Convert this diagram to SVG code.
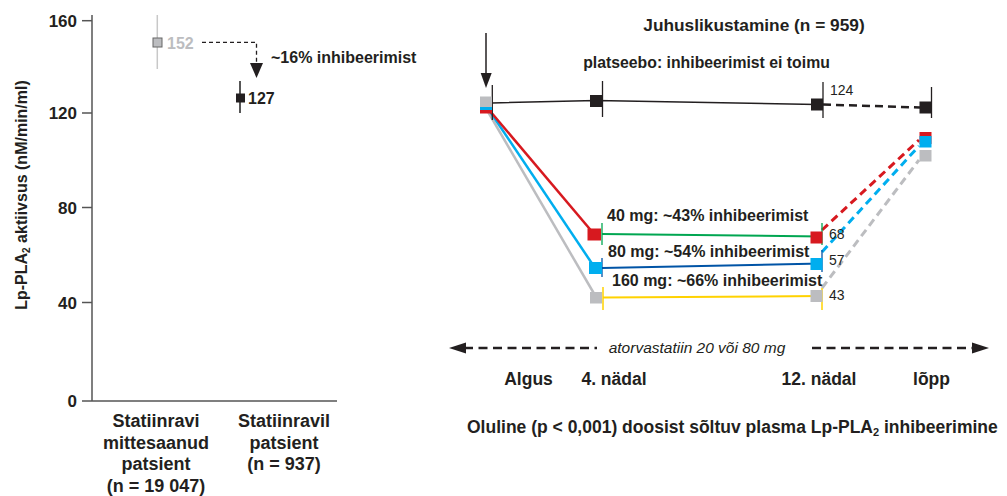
<svg xmlns="http://www.w3.org/2000/svg" width="1007" height="496" viewBox="0 0 1007 496">
<style>
text{font-family:"Liberation Sans",Arial,sans-serif;fill:#231f20}
.b{font-weight:bold}
.tick{font-size:17px;font-weight:bold;text-anchor:end}
.xl{font-size:18px;font-weight:bold;text-anchor:middle}
.num{font-size:14px}
.dose{font-size:16px;font-weight:bold}
.wk{font-size:17.5px;font-weight:bold;text-anchor:middle}
.ax{stroke:#555;stroke-width:1.5;fill:none}
.blk{fill:#231f20}
</style>
<rect width="1007" height="496" fill="#fff"/>

<!-- LEFT CHART -->
<g id="left-axes">
  <line class="ax" x1="92" y1="15" x2="92" y2="401"/>
  <line class="ax" x1="92" y1="401" x2="337" y2="401"/>
  <line class="ax" x1="82" y1="20.7" x2="92" y2="20.7"/>
  <line class="ax" x1="82" y1="113" x2="92" y2="113"/>
  <line class="ax" x1="82" y1="207.5" x2="92" y2="207.5"/>
  <line class="ax" x1="82" y1="302.5" x2="92" y2="302.5"/>
  <line class="ax" x1="82" y1="401" x2="92" y2="401"/>
  <text class="tick" x="77" y="26.5">160</text>
  <text class="tick" x="77" y="119">120</text>
  <text class="tick" x="77" y="213.5">80</text>
  <text class="tick" x="77" y="308.5">40</text>
  <text class="tick" x="77" y="407">0</text>
  <text class="b" font-size="16" text-anchor="middle" transform="translate(27,195) rotate(-90)">Lp-PLA<tspan font-size="10" dy="3">2</tspan><tspan dy="-3"> aktiivsus (nM/min/ml)</tspan></text>
</g>
<g id="group-no-statin">
  <line x1="157.3" y1="15" x2="157.3" y2="69" stroke="#c8c8c8" stroke-width="1.5"/>
  <rect x="153" y="38" width="9" height="9" fill="#bcbdc0" stroke="#666" stroke-width="1"/>
  <text class="b" x="167" y="48.5" font-size="16" style="fill:#bcbdc0">152</text>
  <text class="xl" x="156" y="427">Statiinravi</text>
  <text class="xl" x="156" y="448.5">mittesaanud</text>
  <text class="xl" x="156" y="470">patsient</text>
  <text class="xl" x="156" y="492">(n = 19 047)</text>
</g>
<g id="group-statin">
  <line x1="240" y1="81" x2="240" y2="113" stroke="#444" stroke-width="1.8"/>
  <rect x="236" y="93.5" width="9" height="9" class="blk"/>
  <text class="b" x="248" y="104" font-size="16">127</text>
  <text class="xl" x="284" y="427">Statiinravil</text>
  <text class="xl" x="284" y="448.5">patsient</text>
  <text class="xl" x="284" y="470">(n = 937)</text>
</g>
<g id="left-connector">
  <path d="M202,42.3 H256.5 V64" fill="none" stroke="#231f20" stroke-width="1.3" stroke-dasharray="4 3"/>
  <polygon points="250,63 263,63 256.5,78" class="blk"/>
  <text class="b" x="271" y="62.5" font-size="16">~16% inhibeerimist</text>
</g>

<!-- RIGHT CHART -->
<g id="right-titles">
  <text class="b" x="754" y="31" font-size="17.3" text-anchor="middle">Juhuslikustamine (n = 959)</text>
  <text class="b" x="706.5" y="68" font-size="15.8" text-anchor="middle">platseebo: inhibeerimist ei toimu</text>
</g>

<g id="connectors">
  <!-- randomisation arrow -->
  <line x1="486" y1="33" x2="486" y2="75" stroke="#231f20" stroke-width="1.5"/>
  <polygon points="480.7,73 491.7,73 486,88" class="blk"/>
  <!-- start to week 4 -->
  <line x1="487" y1="110" x2="596" y2="297" stroke="#bcbdc0" stroke-width="2.5"/>
  <line x1="489" y1="110" x2="595" y2="268" stroke="#00aeef" stroke-width="2.5"/>
  <line x1="490" y1="111" x2="594" y2="234" stroke="#d7191f" stroke-width="2.5"/>
  <!-- placebo -->
  <polyline points="492,103 596,100.5 817,104.5" fill="none" stroke="#231f20" stroke-width="1.5"/>
  <line x1="823" y1="104.5" x2="920" y2="107.5" stroke="#231f20" stroke-width="2.5" stroke-dasharray="8 5"/>
  <!-- dose lines week 4 to week 12 -->
  <line x1="602" y1="234" x2="822" y2="236.5" stroke="#00a651" stroke-width="2"/>
  <line x1="602" y1="268" x2="822" y2="263.5" stroke="#0054a6" stroke-width="2"/>
  <line x1="603" y1="297.5" x2="822" y2="296" stroke="#ffd200" stroke-width="2"/>
  <!-- week 12 to end (dashed) -->
  <line x1="822" y1="230" x2="919" y2="140" stroke="#d7191f" stroke-width="3" stroke-dasharray="8 5"/>
  <line x1="822" y1="252" x2="919" y2="146" stroke="#00aeef" stroke-width="3" stroke-dasharray="8 5"/>
  <line x1="822" y1="288" x2="919" y2="160" stroke="#bcbdc0" stroke-width="3" stroke-dasharray="8 5"/>
  <!-- timeline arrow -->
  <line x1="464" y1="348" x2="597" y2="348" stroke="#231f20" stroke-width="2.5" stroke-dasharray="9 5.5"/>
  <polygon points="449,348 466,342.5 466,353.5" class="blk"/>
  <line x1="812" y1="348" x2="973" y2="348" stroke="#231f20" stroke-width="2.5" stroke-dasharray="9 5.5"/>
  <polygon points="989,348 972,342.5 972,353.5" class="blk"/>
</g>

<g id="baseline-point">
  <line x1="492.3" y1="85" x2="492.3" y2="120" stroke="#231f20" stroke-width="1.3"/>
  <rect x="480" y="101.5" width="12" height="12" fill="#d7191f"/>
  <rect x="480" y="99" width="12" height="11" fill="#00aeef"/>
  <rect x="480" y="96.5" width="12" height="10.5" fill="#bcbdc0"/>
</g>
<g id="placebo-points">
  <line x1="602.5" y1="81" x2="602.5" y2="117" stroke="#231f20" stroke-width="1.3"/>
  <rect x="590" y="95" width="12.5" height="12" class="blk"/>
  <line x1="823" y1="82" x2="823" y2="118" stroke="#231f20" stroke-width="1.3"/>
  <rect x="811" y="98.5" width="12" height="12" class="blk"/>
  <text class="num" x="830" y="95">124</text>
  <line x1="931.5" y1="87" x2="931.5" y2="118" stroke="#231f20" stroke-width="1.3"/>
  <rect x="919.5" y="101.5" width="12.5" height="12" class="blk"/>
</g>
<g id="dose-40">
  <line x1="602" y1="223" x2="602" y2="245" stroke="#00a651" stroke-width="1.3"/>
  <rect x="587.5" y="228.5" width="13.5" height="12" fill="#d7191f"/>
  <line x1="822" y1="223" x2="822" y2="245" stroke="#00a651" stroke-width="1.3"/>
  <rect x="810.5" y="231.5" width="12" height="12" fill="#d7191f"/>
  <text class="dose" x="607" y="221">40 mg: ~43% inhibeerimist</text>
  <text class="num" x="829" y="238.5">68</text>
  <rect x="919.5" y="132" width="12" height="12" fill="#d7191f"/>
</g>
<g id="dose-80">
  <line x1="602" y1="258" x2="602" y2="277" stroke="#0054a6" stroke-width="1.3"/>
  <rect x="589" y="262" width="13" height="12" fill="#00aeef"/>
  <line x1="822" y1="250" x2="822" y2="272" stroke="#0054a6" stroke-width="1.3"/>
  <rect x="810.5" y="258" width="12" height="12" fill="#00aeef"/>
  <text class="dose" x="608" y="257">80 mg: ~54% inhibeerimist</text>
  <text class="num" x="829" y="264.5">57</text>
  <rect x="919.5" y="136" width="12" height="11.5" fill="#00aeef"/>
</g>
<g id="dose-160">
  <line x1="603" y1="287" x2="603" y2="310" stroke="#ffd200" stroke-width="1.5"/>
  <rect x="590" y="292" width="12" height="11.5" fill="#bcbdc0"/>
  <line x1="822" y1="288" x2="822" y2="310" stroke="#ffd200" stroke-width="1.5"/>
  <rect x="810.5" y="290" width="12" height="12" fill="#bcbdc0"/>
  <text class="dose" x="612" y="286">160 mg: ~66% inhibeerimist</text>
  <text class="num" x="829" y="299.5">43</text>
  <rect x="919.5" y="150" width="12" height="11.5" fill="#bcbdc0"/>
</g>

<g id="timeline-labels">
  <text x="697" y="353" font-size="15.5" font-style="italic" text-anchor="middle">atorvastatiin 20 või 80 mg</text>
  <text class="wk" x="528.5" y="385">Algus</text>
  <text class="wk" x="614" y="385">4. nädal</text>
  <text class="wk" x="819" y="385">12. nädal</text>
  <text class="wk" x="931.5" y="385">lõpp</text>
</g>
<g id="footer">
  <text class="b" x="467" y="433" font-size="17.5">Oluline (p &lt; 0,001) doosist sõltuv plasma Lp-PLA<tspan font-size="11" dy="3">2</tspan><tspan dy="-3"> inhibeerimine</tspan></text>
</g>
</svg>
